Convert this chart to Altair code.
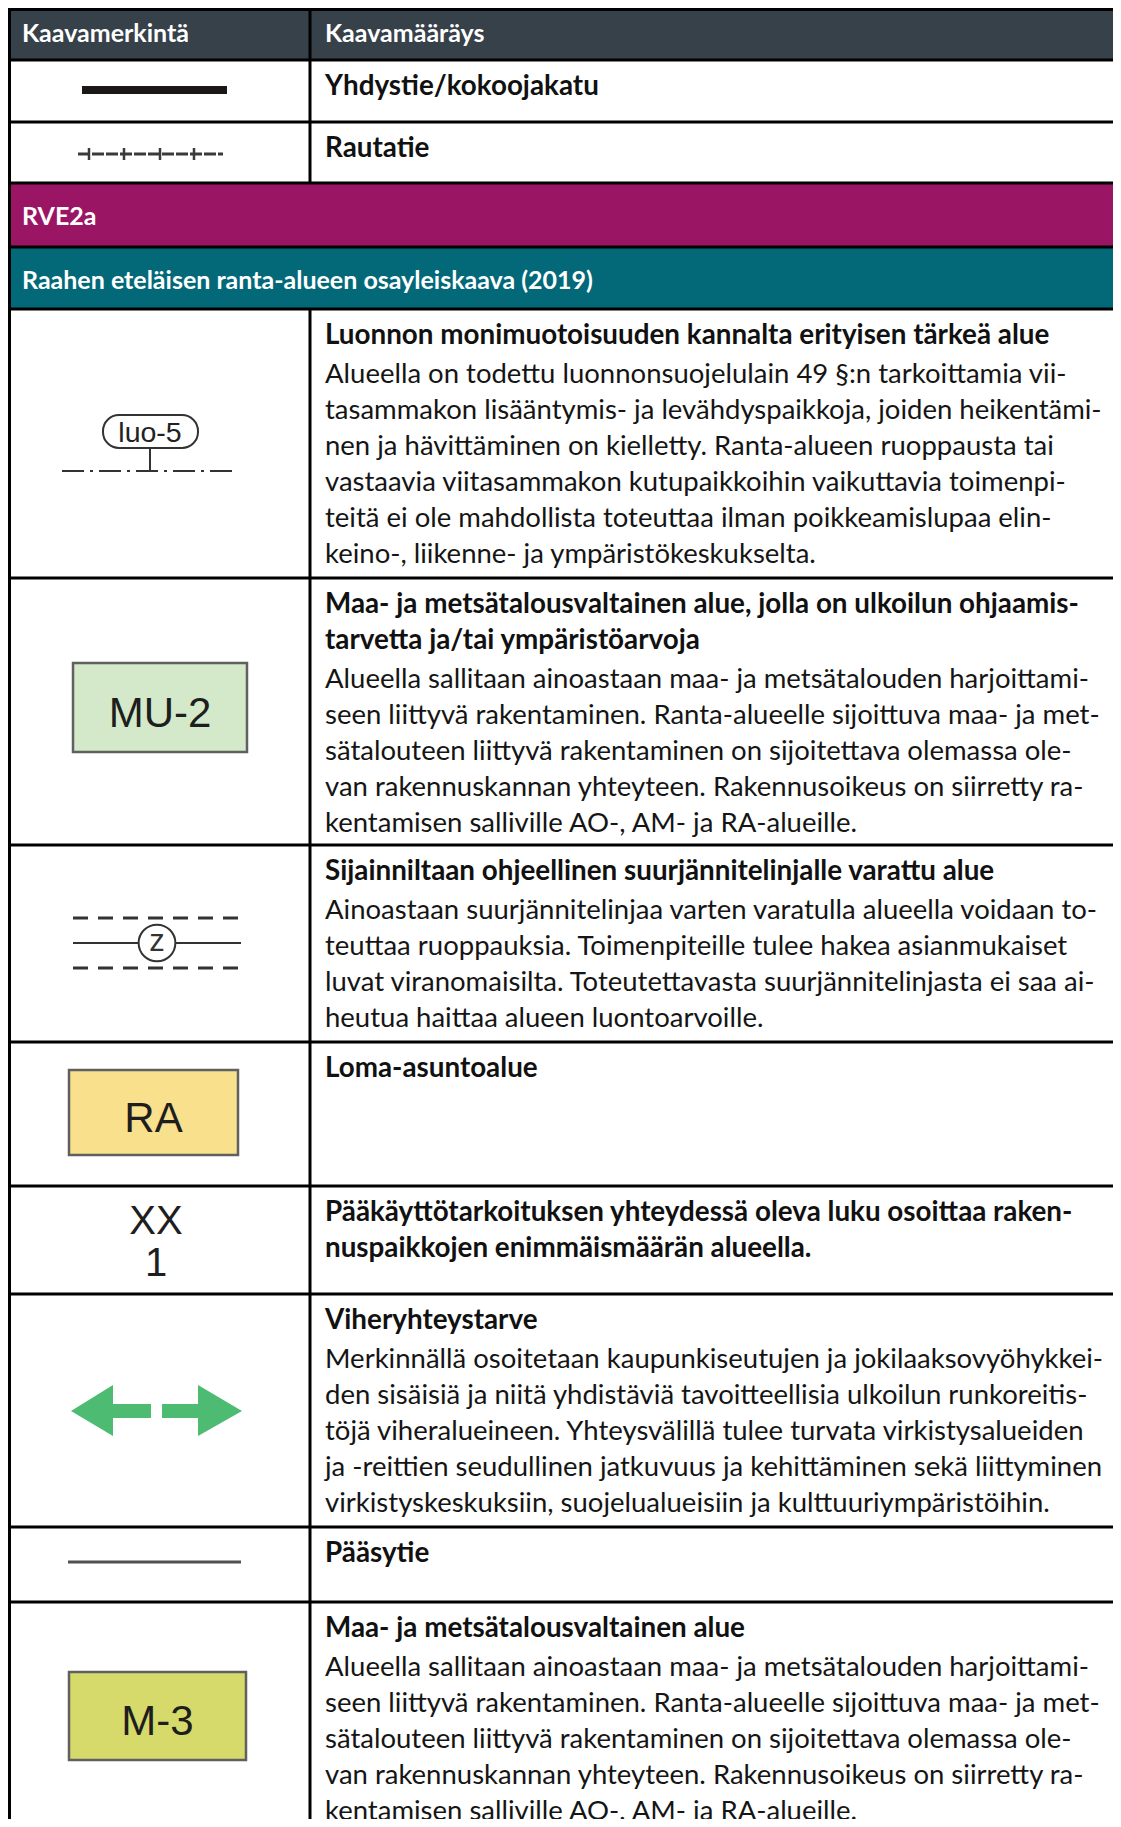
import altair as alt
import pandas as pd

# ---------------- layout (page pixels) ----------------
OFF = 8                      # page margin
W, H = 1105, 1811            # drawing area
ROW_BOUNDS = [6, 60, 122, 183, 247, 309, 578, 845, 1042, 1186, 1294, 1527, 1602, 1827]
COL_X = 310                  # column divider
LEFT_X = 9.5
TEXT_L = 22
TEXT_R = 325
FIRST_LINE = 27
BOLD_STEP = 36
BODY_GAP = 3
BODY_STEP = 36

def px(v):
    return v - OFF

# ---------------- data ----------------
header_labels = ["Kaavamerkintä", "Kaavamääräys"]
header_color = "#36414a"
band_labels = ["RVE2a", "Raahen eteläisen ranta-alueen osayleiskaava (2019)"]
band_colors = ["#9a1664", "#036979"]
band_rows = [3, 4]

white_rows = [1, 2, 5, 6, 7, 8, 9, 10, 11, 12]
row_bold = [
    ["Yhdystie/kokoojakatu"],
    ["Rautatie"],
    ["Luonnon monimuotoisuuden kannalta erityisen tärkeä alue"],
    ["Maa- ja metsätalousvaltainen alue, jolla on ulkoilun ohjaamis-",
     "tarvetta ja/tai ympäristöarvoja"],
    ["Sijainniltaan ohjeellinen suurjännitelinjalle varattu alue"],
    ["Loma-asuntoalue"],
    ["Pääkäyttötarkoituksen yhteydessä oleva luku osoittaa raken-",
     "nuspaikkojen enimmäismäärän alueella."],
    ["Viheryhteystarve"],
    ["Pääsytie"],
    ["Maa- ja metsätalousvaltainen alue"],
]
row_body = [
    [],
    [],
    ["Alueella on todettu luonnonsuojelulain 49 §:n tarkoittamia vii-",
     "tasammakon lisääntymis- ja levähdyspaikkoja, joiden heikentämi-",
     "nen ja hävittäminen on kielletty. Ranta-alueen ruoppausta tai",
     "vastaavia viitasammakon kutupaikkoihin vaikuttavia toimenpi-",
     "teitä ei ole mahdollista toteuttaa ilman poikkeamislupaa elin-",
     "keino-, liikenne- ja ympäristökeskukselta."],
    ["Alueella sallitaan ainoastaan maa- ja metsätalouden harjoittami-",
     "seen liittyvä rakentaminen. Ranta-alueelle sijoittuva maa- ja met-",
     "sätalouteen liittyvä rakentaminen on sijoitettava olemassa ole-",
     "van rakennuskannan yhteyteen. Rakennusoikeus on siirretty ra-",
     "kentamisen salliville AO-, AM- ja RA-alueille."],
    ["Ainoastaan suurjännitelinjaa varten varatulla alueella voidaan to-",
     "teuttaa ruoppauksia. Toimenpiteille tulee hakea asianmukaiset",
     "luvat viranomaisilta. Toteutettavasta suurjännitelinjasta ei saa ai-",
     "heutua haittaa alueen luontoarvoille."],
    [],
    [],
    ["Merkinnällä osoitetaan kaupunkiseutujen ja jokilaaksovyöhykkei-",
     "den sisäisiä ja niitä yhdistäviä tavoitteellisia ulkoilun runkoreitis-",
     "töjä viheralueineen. Yhteysvälillä tulee turvata virkistysalueiden",
     "ja -reittien seudullinen jatkuvuus ja kehittäminen sekä liittyminen",
     "virkistyskeskuksiin, suojelualueisiin ja kulttuuriympäristöihin."],
    [],
    ["Alueella sallitaan ainoastaan maa- ja metsätalouden harjoittami-",
     "seen liittyvä rakentaminen. Ranta-alueelle sijoittuva maa- ja met-",
     "sätalouteen liittyvä rakentaminen on sijoitettava olemassa ole-",
     "van rakennuskannan yhteyteen. Rakennusoikeus on siirretty ra-",
     "kentamisen salliville AO-, AM- ja RA-alueille."],
]

# area symbols: code, fill, box (x0, x1, y0, y1)
box_codes = ["MU-2", "RA", "M-3"]
box_fills = ["#d3e9c9", "#f9e08d", "#d6da6a"]
box_x0 = [73, 69, 69]
box_x1 = [247, 238, 246]
box_y0 = [663, 1070, 1672]
box_y1 = [752, 1155, 1760]

# ---------------- helpers ----------------
xs = alt.Scale(domain=[0, W], nice=False, zero=False)
ys = alt.Scale(domain=[0, H], nice=False, zero=False, reverse=True)

def enc(**kw):
    out = {}
    if "x" in kw:
        out["x"] = alt.X("x:Q", scale=xs, axis=None)
    if "x2" in kw:
        out["x2"] = alt.X2("x2:Q")
    if "y" in kw:
        out["y"] = alt.Y("y:Q", scale=ys, axis=None)
    if "y2" in kw:
        out["y2"] = alt.Y2("y2:Q")
    return out

def seg_layer(rows, **mark):
    return alt.Chart(pd.DataFrame(rows)).mark_rule(**mark).encode(**enc(x=1, x2=1, y=1, y2=1))

# colored bands
bands = [dict(x=px(7), x2=W, y=px(ROW_BOUNDS[0]), y2=px(ROW_BOUNDS[1]), fill=header_color)]
for r, c in zip(band_rows, band_colors):
    bands.append(dict(x=px(7), x2=W, y=px(ROW_BOUNDS[r]), y2=px(ROW_BOUNDS[r + 1]), fill=c))
band_layer = alt.Chart(pd.DataFrame(bands)).mark_rect().encode(
    **enc(x=1, x2=1, y=1, y2=1), color=alt.Color("fill:N", scale=None))

# grid lines
lines = []
for b in ROW_BOUNDS[:-1]:
    yy = max(px(b), 1.5)
    lines.append(dict(x=0, x2=W, y=yy, y2=yy))
lines.append(dict(x=px(LEFT_X), x2=px(LEFT_X), y=0, y2=H))
lines.append(dict(x=px(COL_X), x2=px(COL_X), y=px(ROW_BOUNDS[0]), y2=px(ROW_BOUNDS[3])))
lines.append(dict(x=px(COL_X), x2=px(COL_X), y=px(ROW_BOUNDS[5]), y2=H))
grid_layer = seg_layer(lines, color="black", strokeWidth=3)

# header / band texts
head_df = pd.DataFrame([
    dict(x=px(TEXT_L), y=px(34), t=header_labels[0]),
    dict(x=px(TEXT_R), y=px(34), t=header_labels[1]),
    dict(x=px(TEXT_L), y=px((ROW_BOUNDS[3] + ROW_BOUNDS[4]) / 2 + 2), t=band_labels[0]),
    dict(x=px(TEXT_L), y=px((ROW_BOUNDS[4] + ROW_BOUNDS[5]) / 2 + 3), t=band_labels[1]),
])
head_layer = alt.Chart(head_df).mark_text(
    align="left", baseline="middle", font="Lato", fontWeight="bold", fontSize=25, color="white"
).encode(**enc(x=1, y=1), text="t:N")

# right-column texts
bold_rows, body_rows = [], []
for r, bl, nl in zip(white_rows, row_bold, row_body):
    y = ROW_BOUNDS[r] + FIRST_LINE
    for s in bl:
        bold_rows.append(dict(x=px(TEXT_R), y=px(y), t=s))
        y += BOLD_STEP
    if nl:
        y += BODY_GAP
    for s in nl:
        body_rows.append(dict(x=px(TEXT_R), y=px(y), t=s))
        y += BODY_STEP
bold_layer = alt.Chart(pd.DataFrame(bold_rows)).mark_text(
    align="left", baseline="middle", font="Lato", fontWeight="bold", fontSize=27.8, color="#111111"
).encode(**enc(x=1, y=1), text="t:N")
body_layer = alt.Chart(pd.DataFrame(body_rows)).mark_text(
    align="left", baseline="middle", font="Lato", fontSize=27.5, color="#151515"
).encode(**enc(x=1, y=1), text="t:N")

# ---------------- symbols ----------------
# Yhdystie: thick line
road_layer = seg_layer([dict(x=px(82), x2=px(227), y=px(90), y2=px(90))],
                       color="#1b1716", strokeWidth=8, strokeCap="butt")

# Rautatie: dashed line with ticks
rail_layer = seg_layer([dict(x=px(78), x2=px(223), y=px(154), y2=px(154))],
                       color="#3a3a3a", strokeWidth=3, strokeDash=[12, 2])
rail_ticks_x = [89, 124, 160, 194]
tick_layer = seg_layer([dict(x=px(t), x2=px(t), y=px(148), y2=px(160)) for t in rail_ticks_x],
                       color="#3a3a3a", strokeWidth=2.5)

# luo-5: dash-dot line, stem, pill
luo_line_layer = seg_layer([dict(x=px(62), x2=px(237), y=px(471), y2=px(471))],
                           color="#333333", strokeWidth=2, strokeDash=[22, 6, 3, 6])
luo_stem_layer = seg_layer([dict(x=px(150), x2=px(150), y=px(448), y2=px(471))],
                           color="#333333", strokeWidth=2)
pill_layer = alt.Chart(pd.DataFrame([dict(x=px(103), x2=px(198), y=px(415), y2=px(448))])).mark_rect(
    fill="white", stroke="#333333", strokeWidth=2, cornerRadius=16
).encode(**enc(x=1, x2=1, y=1, y2=1))
pill_text = alt.Chart(pd.DataFrame([dict(x=px(150), y=px(433), t="luo-5")])).mark_text(
    align="center", baseline="middle", font="Liberation Sans", fontSize=28.5, color="#222222"
).encode(**enc(x=1, y=1), text="t:N")

# area boxes
box_df = pd.DataFrame(dict(
    x=[px(v) for v in box_x0], x2=[px(v) for v in box_x1],
    y=[px(v) for v in box_y0], y2=[px(v) for v in box_y1],
    fill=box_fills))
box_layer = alt.Chart(box_df).mark_rect(stroke="#606060", strokeWidth=2.5).encode(
    **enc(x=1, x2=1, y=1, y2=1), color=alt.Color("fill:N", scale=None))
box_text_df = pd.DataFrame(dict(
    x=[px((a + b) / 2) for a, b in zip(box_x0, box_x1)],
    y=[px((a + b) / 2 + 6) for a, b in zip(box_y0, box_y1)],
    t=box_codes))
box_text = alt.Chart(box_text_df).mark_text(
    align="center", baseline="middle", font="Liberation Sans", fontSize=42, color="#1e1e1e"
).encode(**enc(x=1, y=1), text="t:N")

# power line reservation (z)
z_dash_layer = seg_layer([dict(x=px(73), x2=px(241), y=px(v), y2=px(v)) for v in (918, 968)],
                         color="#333333", strokeWidth=3, strokeDash=[15, 10])
z_solid_layer = seg_layer([dict(x=px(73), x2=px(241), y=px(943), y2=px(943))],
                          color="#333333", strokeWidth=2)
z_circle = alt.Chart(pd.DataFrame([dict(x=px(157), y=px(943))])).mark_point(
    shape="circle", size=1350, filled=False, fill="white", fillOpacity=1, stroke="#333333",
    strokeWidth=2, opacity=1
).encode(**enc(x=1, y=1))
z_text = alt.Chart(pd.DataFrame([dict(x=px(157), y=px(942), t="z")])).mark_text(
    align="center", baseline="middle", font="Liberation Sans", fontSize=31, color="#333333"
).encode(**enc(x=1, y=1), text="t:N")

# XX / 1
xx_df = pd.DataFrame([dict(x=px(156), y=px(1222), t="XX"), dict(x=px(156), y=px(1264), t="1")])
xx_layer = alt.Chart(xx_df).mark_text(
    align="center", baseline="middle", font="Liberation Sans", fontSize=40, color="#1e1e1e"
).encode(**enc(x=1, y=1), text="t:N")

# green arrows
arrow_color = "#4dbb72"
shaft_df = pd.DataFrame([
    dict(x=px(112), x2=px(151), y=px(1404), y2=px(1418)),
    dict(x=px(162), x2=px(199), y=px(1404), y2=px(1418)),
])
shaft_layer = alt.Chart(shaft_df).mark_rect(color=arrow_color).encode(**enc(x=1, x2=1, y=1, y2=1))
head_pts = pd.DataFrame([
    dict(g="L", x=px(71), y=px(1411), y2=px(1411)),
    dict(g="L", x=px(113), y=px(1385), y2=px(1436)),
    dict(g="R", x=px(198), y=px(1385), y2=px(1436)),
    dict(g="R", x=px(242), y=px(1411), y2=px(1411)),
])
heads_layer = alt.Chart(head_pts).mark_area(color=arrow_color, opacity=1).encode(
    **enc(x=1, y=1, y2=1), detail="g:N")

# Pääsytie line
path_layer = seg_layer([dict(x=px(68), x2=px(241), y=px(1562), y2=px(1562))],
                       color="#505050", strokeWidth=3)

chart = alt.layer(
    band_layer, grid_layer, head_layer, bold_layer, body_layer,
    road_layer, rail_layer, tick_layer,
    luo_line_layer, luo_stem_layer, pill_layer, pill_text,
    box_layer, box_text,
    z_dash_layer, z_solid_layer, z_circle, z_text,
    xx_layer, shaft_layer, heads_layer, path_layer,
).properties(width=W, height=H, padding=0, autosize="none", background="white"
).configure_view(stroke=None)

chart.save("out.html", embed_options={"renderer": "svg", "actions": False})
